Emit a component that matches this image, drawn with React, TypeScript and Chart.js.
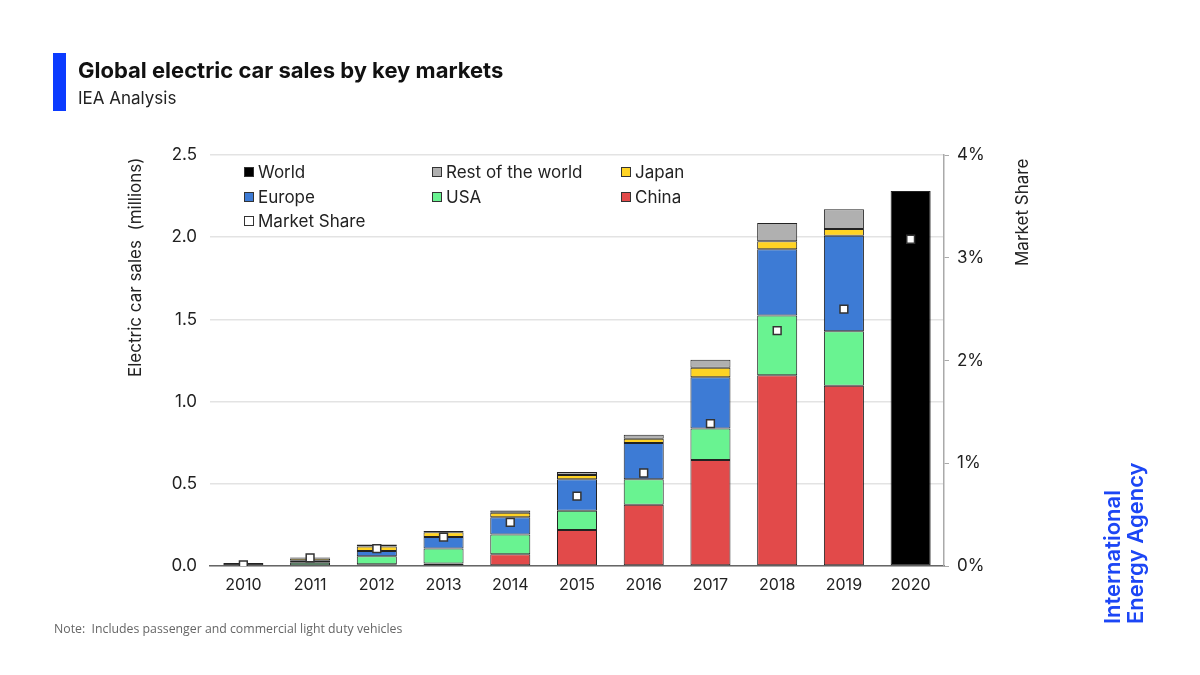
import React, { useEffect, useRef } from "react";
import { Chart, registerables } from "chart.js";

Chart.register(...registerables);

const years = ["2010", "2011", "2012", "2013", "2014", "2015", "2016", "2017", "2018", "2019", "2020"];
const china = [null, 0.004, 0.010, 0.015, 0.071, 0.219, 0.373, 0.645, 1.160, 1.097, null];
const usa = [null, 0.016, 0.049, 0.091, 0.120, 0.117, 0.154, 0.192, 0.363, 0.331, null];
const europe = [null, 0.012, 0.032, 0.071, 0.105, 0.191, 0.221, 0.311, 0.403, 0.581, null];
const japan = [null, 0.013, 0.028, 0.028, 0.028, 0.026, 0.026, 0.058, 0.049, 0.041, null];
const restOfWorld = [null, 0.007, 0.012, 0.008, 0.014, 0.019, 0.025, 0.049, 0.111, 0.120, null];
const world = [0.019, null, null, null, null, null, null, null, null, null, 2.281];
const marketShare = [0.01, 0.08, 0.17, 0.28, 0.425, 0.68, 0.905, 1.385, 2.29, 2.5, 3.18];
const leftTicks = [0, 0.5, 1.0, 1.5, 2.0, 2.5];
const rightTicks = [0, 1, 2, 3, 4];

const COLORS = {
  china: "#e24a4a",
  usa: "#69f391",
  europe: "#3d7bd5",
  japan: "#ffd324",
  row: "#b0b0b0",
  world: "#000000",
};

const legendItems = [
  { label: "World", color: COLORS.world, x: 244, y: 172 },
  { label: "Rest of the world", color: COLORS.row, x: 432, y: 172 },
  { label: "Japan", color: COLORS.japan, x: 621, y: 172 },
  { label: "Europe", color: COLORS.europe, x: 244, y: 197 },
  { label: "USA", color: COLORS.usa, x: 432, y: 197 },
  { label: "China", color: COLORS.china, x: 621, y: 197 },
  { label: "Market Share", color: "#ffffff", x: 244, y: 221 },
];

const FONT = "Inter, 'Noto Sans', sans-serif";

export default function App() {
  const ref = useRef<HTMLCanvasElement | null>(null);

  useEffect(() => {
    if (!ref.current) return;
    Chart.defaults.font.family = FONT;
    Chart.defaults.color = "#222";
    const barCommon = {
      type: "bar" as const,
      stack: "s",
      borderColor: "#222",
      borderWidth: 1,
      borderSkipped: false,
      order: 1,
      yAxisID: "y",
      categoryPercentage: 1,
      barPercentage: 0.6,
    };
    const chart = new Chart(ref.current, {
      type: "bar",
      data: {
        labels: years,
        datasets: [
          { ...barCommon, label: "China", data: china, backgroundColor: COLORS.china },
          { ...barCommon, label: "USA", data: usa, backgroundColor: COLORS.usa },
          { ...barCommon, label: "Europe", data: europe, backgroundColor: COLORS.europe },
          { ...barCommon, label: "Japan", data: japan, backgroundColor: COLORS.japan },
          { ...barCommon, label: "Rest of the world", data: restOfWorld, backgroundColor: COLORS.row },
          { ...barCommon, label: "World", data: world, backgroundColor: COLORS.world },
          {
            type: "line" as const,
            label: "Market Share",
            data: marketShare,
            yAxisID: "y1",
            showLine: false,
            order: 0,
            pointStyle: "rect",
            pointRadius: 5.5,
            pointBackgroundColor: "#ffffff",
            pointBorderColor: "#333",
            pointBorderWidth: 1.5,
          } as any,
        ],
      },
      options: {
        responsive: false,
        animation: false,
        devicePixelRatio: 1,
        layout: { padding: { left: 0, right: 0, top: 155, bottom: 0 } },
        plugins: { legend: { display: false }, tooltip: { enabled: false } },
        scales: {
          x: {
            stacked: true,
            grid: { display: false, drawTicks: false },
            border: { color: "#666", width: 1.5 },
            ticks: { font: { size: 16 }, color: "#222", padding: 10 },
            afterFit: (s: any) => {
              s.height = 109;
            },
          },
          y: {
            stacked: true,
            min: 0,
            max: 2.5,
            afterBuildTicks: (s: any) => {
              s.ticks = leftTicks.map((v) => ({ value: v }));
            },
            ticks: {
              font: { size: 17 },
              color: "#222",
              padding: 13,
              callback: (v: any) => Number(v).toFixed(1),
            },
            grid: { color: "#e3e3e3", drawTicks: false, lineWidth: 1.5 },
            border: { display: false },
            afterFit: (s: any) => {
              s.width = 210;
            },
          },
          y1: {
            position: "right",
            min: 0,
            max: 4,
            afterBuildTicks: (s: any) => {
              s.ticks = rightTicks.map((v) => ({ value: v }));
            },
            ticks: {
              font: { size: 17 },
              color: "#222",
              padding: 8,
              callback: (v: any) => `${v}%`,
            },
            grid: { drawOnChartArea: false, tickLength: 5, color: "#aaa" },
            border: { color: "#aaa", width: 1.5 },
            afterFit: (s: any) => {
              s.width = 256;
            },
          },
        },
      } as any,
    });
    return () => chart.destroy();
  }, []);

  const rotated = (left: number, top: number): React.CSSProperties => ({
    position: "absolute",
    left,
    top,
    transform: "rotate(-90deg)",
    transformOrigin: "top left",
    whiteSpace: "pre",
  });

  return (
    <div
      style={{
        position: "absolute",
        left: 0,
        top: 0,
        width: 1200,
        height: 675,
        background: "#fff",
        fontFamily: FONT,
        overflow: "hidden",
      }}
    >
      <canvas ref={ref} width={1200} height={675} style={{ position: "absolute", left: 0, top: 0, width: 1200, height: 675 }} />
      <div style={{ position: "absolute", left: 53, top: 53, width: 13, height: 58, background: "#0b3bff" }} />
      <div style={{ position: "absolute", left: 78, top: 57, fontSize: 22, fontWeight: 700, color: "#111", whiteSpace: "nowrap", lineHeight: "27px" }}>
        Global electric car sales by key markets
      </div>
      <div style={{ position: "absolute", left: 78, top: 87, fontSize: 17, fontWeight: 400, color: "#222", whiteSpace: "nowrap", lineHeight: "22px" }}>
        IEA Analysis
      </div>
      {legendItems.map((it) => (
        <div
          key={it.label}
          style={{ position: "absolute", left: it.x, top: it.y - 12, height: 24, display: "flex", alignItems: "center", whiteSpace: "nowrap" }}
        >
          <span
            style={{
              display: "inline-block",
              width: 8,
              height: 8,
              background: it.color,
              border: "1px solid #333",
              marginRight: 4,
            }}
          />
          <span style={{ fontSize: 17, color: "#222" }}>{it.label}</span>
        </div>
      ))}
      <div style={{ ...rotated(125, 377), fontSize: 17, lineHeight: "20px", color: "#222" }}>
        {"Electric car sales  (millions)"}
      </div>
      <div style={{ ...rotated(1012, 266), fontSize: 17, lineHeight: "20px", color: "#222" }}>
        {"Market Share"}
      </div>
      <div style={{ position: "absolute", left: 54, top: 620, fontSize: 12.3, color: "#666", whiteSpace: "pre", fontFamily: "'Open Sans', sans-serif" }}>
        {"Note:  Includes passenger and commercial light duty vehicles"}
      </div>
      <div
        style={{
          ...rotated(1101, 624),
          color: "#1c46f5",
          fontSize: 22,
          fontWeight: 600,
          lineHeight: "23px",
          fontFamily: "Inter, sans-serif",
        }}
      >
        <div>International</div>
        <div>Energy Agency</div>
      </div>
    </div>
  );
}
